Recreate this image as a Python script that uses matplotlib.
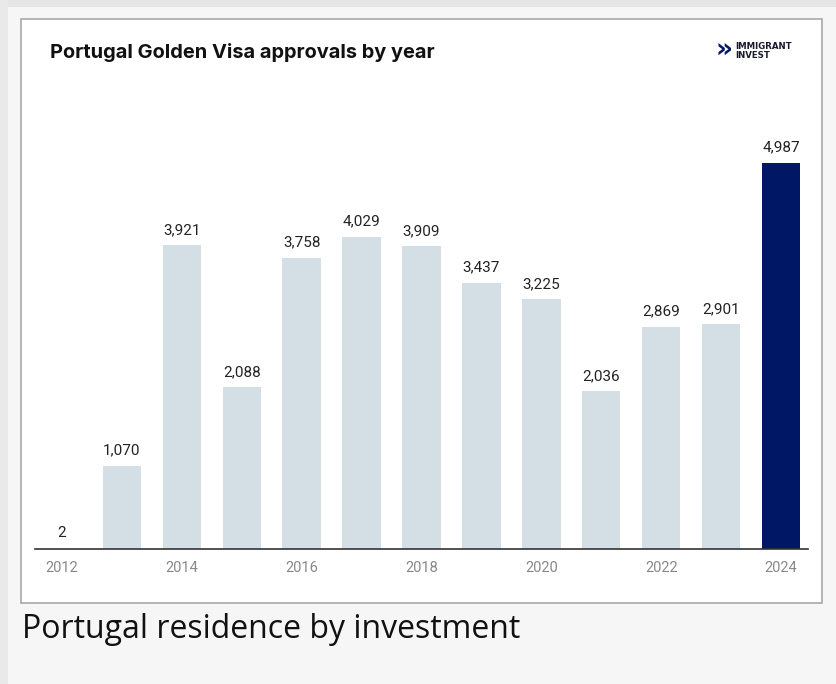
import matplotlib
matplotlib.use("Agg")
import matplotlib.pyplot as plt
from matplotlib.patches import Rectangle

YEARS = list(range(2012, 2025))
APPROVALS = [2, 1070, 3921, 2088, 3758, 4029, 3909, 3437, 3225, 2036, 2869, 2901, 4987]
TICK_YEARS = [2012, 2014, 2016, 2018, 2020, 2022, 2024]

W, H = 836, 684
BAR_LIGHT = "#d3dee5"
BAR_DARK = "#001766"


def px(x, y):
    # pixel coords (top-left origin) -> figure fraction
    return x / W, 1 - y / H


fig = plt.figure(figsize=(W / 100, H / 100), dpi=100)
fig.patch.set_facecolor("#f6f6f6")

# page frame bits
fig.patches.append(Rectangle((0, 1 - 7 / H), 1, 7 / H, transform=fig.transFigure,
                             facecolor="#e6e6e6", edgecolor="none", zorder=0))
fig.patches.append(Rectangle((0, 0), 8 / W, 1, transform=fig.transFigure,
                             facecolor="#e9e9e9", edgecolor="none", zorder=0))
# white chart card
x0, y0 = px(21, 603)
x1, y1 = px(822, 19)
fig.patches.append(Rectangle((x0, y0), x1 - x0, y1 - y0, transform=fig.transFigure,
                             facecolor="white", edgecolor="#a8a8a8", linewidth=1.2, zorder=0))

# axes: baseline at y=549px, from x=35 to 808
ax_l, ax_b = px(35, 549)
ax_r, ax_t = px(808, 100)
ax = fig.add_axes([ax_l, ax_b, ax_r - ax_l, ax_t - ax_b])
ax.set_zorder(2)
ax.set_facecolor("none")

idx = list(range(len(YEARS)))
colors = [BAR_DARK if y == 2024 else BAR_LIGHT for y in YEARS]
ax.bar(idx, APPROVALS, width=0.64, color=colors, zorder=2)

for i, v in zip(idx, APPROVALS):
    ax.text(i, v + 110, f"{v:,}", ha="center", va="bottom", fontsize=11,
            family="Roboto", color="#222222")

ax.set_xlim(-0.45, 12.45)
ax.set_ylim(0, 5800)
ax.set_yticks([])
ax.set_xticks([YEARS.index(y) for y in TICK_YEARS])
ax.set_xticklabels([str(y) for y in TICK_YEARS], fontsize=10.5, family="Roboto",
                   color="#888888")
ax.tick_params(axis="x", length=0, pad=9)
for s in ["top", "right", "left"]:
    ax.spines[s].set_visible(False)
ax.spines["bottom"].set_color("#333333")
ax.spines["bottom"].set_linewidth(1.2)

# title
tx, ty = px(50, 53)
fig.text(tx, ty, "Portugal Golden Visa approvals by year", fontsize=14.4,
         fontweight="bold", family="Inter", color="#111111", va="center")

# logo
lx, ly = px(715, 51)
fig.text(lx, ly, "»", fontsize=19, fontweight="bold", color=BAR_DARK,
         va="center", ha="left", family="DejaVu Sans")
lx2, ly2 = px(735, 51)
fig.text(lx2, ly2, "IMMIGRANT\nINVEST", fontsize=6.2, fontweight="bold",
         color="#1a1a2e", va="center", ha="left", family="DejaVu Sans", linespacing=0.9)

# caption
cx, cy = px(22, 630)
fig.text(cx, cy, "Portugal residence by investment", fontsize=23,
         family="Open Sans", color="#111111", va="center")

fig.savefig("out.png", dpi=100, facecolor=fig.get_facecolor())
